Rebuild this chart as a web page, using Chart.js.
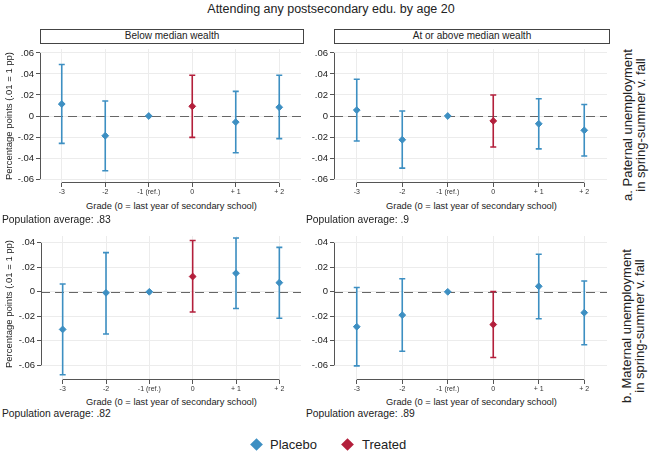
<!DOCTYPE html>
<html>
<head>
<meta charset="utf-8">
<script src="https://cdn.jsdelivr.net/npm/chart.js@4.4.1/dist/chart.umd.min.js"></script>
<style>
  body { margin: 0; background: #fff; font-family: "Liberation Sans", Arial, sans-serif; color: #222; }
  #wrap { position: relative; width: 662px; height: 451px; overflow: hidden; }
  canvas { position: absolute; }
  .txt { position: absolute; white-space: nowrap; }
  .box { position: absolute; border: 1px solid #444; box-sizing: border-box; text-align: center; font-size: 10px; line-height: 12px; }
  .rot { position: absolute; transform: translate(-50%, -50%) rotate(-90deg); white-space: nowrap; text-align: center; }
  .mark { position: absolute; width: 9px; height: 9px; transform: rotate(45deg); }
</style>
</head>
<body>
<div id="wrap">
  <div class="txt" style="left:0;width:662px;top:2px;text-align:center;font-size:12.5px;">Attending any postsecondary edu. by age 20</div>

  <div class="box" style="left:40px;top:29px;width:264px;height:15px;">Below median wealth</div>
  <div class="box" style="left:334px;top:29px;width:276px;height:15px;">At or above median wealth</div>

  <canvas id="c1" width="306" height="153" style="left:0;top:44px;"></canvas>
  <canvas id="c2" width="306" height="153" style="left:306px;top:44px;"></canvas>
  <canvas id="c3" width="306" height="163" style="left:0;top:231px;"></canvas>
  <canvas id="c4" width="306" height="163" style="left:306px;top:231px;"></canvas>

  <div class="rot" style="left:8px;top:116px;font-size:9.5px;">Percentage points (.01 = 1 pp)</div>
  <div class="rot" style="left:8px;top:304px;font-size:9.5px;">Percentage points (.01 = 1 pp)</div>

  <div class="txt" style="left:40px;width:263px;top:201px;text-align:center;font-size:9.3px;">Grade (0 = last year of secondary school)</div>
  <div class="txt" style="left:334px;width:275px;top:201px;text-align:center;font-size:9.3px;">Grade (0 = last year of secondary school)</div>
  <div class="txt" style="left:40px;width:263px;top:397px;text-align:center;font-size:9.3px;">Grade (0 = last year of secondary school)</div>
  <div class="txt" style="left:334px;width:275px;top:397px;text-align:center;font-size:9.3px;">Grade (0 = last year of secondary school)</div>

  <div class="txt" style="left:2px;top:214px;font-size:10.3px;">Population average: .83</div>
  <div class="txt" style="left:306px;top:214px;font-size:10.3px;">Population average: .9</div>
  <div class="txt" style="left:2px;top:408px;font-size:10.3px;">Population average: .82</div>
  <div class="txt" style="left:306px;top:408px;font-size:10.3px;">Population average: .89</div>

  <div class="rot" style="left:634px;top:125px;font-size:13px;line-height:13px;">a. Paternal unemployment<br>in spring-summer v. fall</div>
  <div class="rot" style="left:633px;top:326px;font-size:13px;line-height:13px;">b. Maternal unemployment<br>in spring-summer v. fall</div>

  <div class="mark" style="left:252px;top:440px;background:#3d8fc2;"></div>
  <div class="txt" style="left:270px;top:437px;font-size:13px;">Placebo</div>
  <div class="mark" style="left:343px;top:440px;background:#b31f3b;"></div>
  <div class="txt" style="left:362px;top:437px;font-size:13px;">Treated</div>
</div>

<script>
// Categories (grade relative to last year of secondary school)
const grades = [-3, -2, -1, 0, 1, 2];
const gradeLabels = ['-3', '-2', '-1 (ref.)', '0', '+ 1', '+ 2'];
const treatedGrade = 0;

// y-axis ticks
const topYTicks = [-0.06, -0.04, -0.02, 0, 0.02, 0.04, 0.06];
const topYLabels = ['-.06', '-.04', '-.02', '0', '.02', '.04', '.06'];
const bottomYTicks = [-0.06, -0.04, -0.02, 0, 0.02, 0.04];
const bottomYLabels = ['-.06', '-.04', '-.02', '0', '.02', '.04'];

// a. Paternal unemployment, below median wealth
const patBelowEst = [0.0114, -0.0188, 0, 0.0092, -0.0058, 0.0083];
const patBelowLo = [-0.026, -0.052, 0, -0.0203, -0.035, -0.0215];
const patBelowHi = [0.049, 0.0142, 0, 0.0388, 0.0234, 0.0388];

// a. Paternal unemployment, at or above median wealth
const patAboveEst = [0.0056, -0.0226, 0, -0.0047, -0.0074, -0.0136];
const patAboveLo = [-0.0238, -0.0496, 0, -0.0295, -0.0313, -0.038];
const patAboveHi = [0.0350, 0.0047, 0, 0.020, 0.0164, 0.011];

// b. Maternal unemployment, below median wealth
const matBelowEst = [-0.0307, -0.0008, 0, 0.0125, 0.0152, 0.0075];
const matBelowLo = [-0.0677, -0.0344, 0, -0.0165, -0.0136, -0.0216];
const matBelowHi = [0.0064, 0.032, 0, 0.0419, 0.044, 0.0363];

// b. Maternal unemployment, at or above median wealth
const matAboveEst = [-0.0285, -0.019, 0, -0.0267, 0.0045, -0.017];
const matAboveLo = [-0.0605, -0.0485, 0, -0.0536, -0.022, -0.0432];
const matAboveHi = [0.0035, 0.0107, 0, 0.0003, 0.0307, 0.0088];

const placeboColor = '#3d8fc2';
const treatedColor = '#b31f3b';
const font = '"Liberation Sans", Arial, sans-serif';

// Draws CI bars, dashed zero line and Stata-style axis lines
const panelPlugin = {
    id: 'panel',
    beforeDatasetsDraw(chart) {
        const { ctx, chartArea, scales: { x, y } } = chart;
        const p = chart.options.plugins.panel;

        // dashed zero line
        ctx.save();
        ctx.strokeStyle = '#666';
        ctx.lineWidth = 1;
        ctx.setLineDash([9, 5]);
        const y0 = Math.round(y.getPixelForValue(0)) + 0.5;
        ctx.beginPath();
        ctx.moveTo(chartArea.left, y0);
        ctx.lineTo(chartArea.right, y0);
        ctx.stroke();
        ctx.restore();

        // confidence intervals
        ctx.save();
        ctx.lineWidth = 1.6;
        grades.forEach((g, i) => {
            if (p.lo[i] === p.hi[i]) return;
            const px = x.getPixelForValue(g);
            const top = y.getPixelForValue(p.hi[i]);
            const bot = y.getPixelForValue(p.lo[i]);
            ctx.strokeStyle = g === treatedGrade ? treatedColor : placeboColor;
            ctx.beginPath();
            ctx.moveTo(px, top);
            ctx.lineTo(px, bot);
            ctx.moveTo(px - 3, top);
            ctx.lineTo(px + 3, top);
            ctx.moveTo(px - 3, bot);
            ctx.lineTo(px + 3, bot);
            ctx.stroke();
        });
        ctx.restore();

        // axis lines spanning the tick range only
        ctx.save();
        ctx.strokeStyle = '#555';
        ctx.lineWidth = 1;
        const yt = p.yTicks;
        const ax = Math.round(chartArea.left) + 0.5;
        ctx.beginPath();
        ctx.moveTo(ax, y.getPixelForValue(yt[0]));
        ctx.lineTo(ax, y.getPixelForValue(yt[yt.length - 1]));
        const ay = Math.round(chartArea.bottom) - 0.5;
        ctx.moveTo(x.getPixelForValue(grades[0]), ay);
        ctx.lineTo(x.getPixelForValue(grades[grades.length - 1]), ay);
        ctx.stroke();
        ctx.restore();
    }
};

// no extra label overflow padding, so the plot area sits where the layout says
function noPad(scale) {
    scale.paddingTop = 0;
    scale.paddingBottom = 0;
    scale.paddingLeft = 0;
    scale.paddingRight = 0;
}

function makePanel(id, est, lo, hi, yTicks, yLabels, yMin, yMax, yWidth) {
    const placebo = [];
    const treated = [];
    grades.forEach((g, i) => {
        (g === treatedGrade ? treated : placebo).push({ x: g, y: est[i] });
    });

    return new Chart(document.getElementById(id), {
        type: 'scatter',
        data: {
            datasets: [
                {
                    label: 'Placebo',
                    data: placebo,
                    pointStyle: 'rectRot',
                    pointRadius: 3.4,
                    backgroundColor: placeboColor,
                    borderColor: placeboColor,
                    borderWidth: 1
                },
                {
                    label: 'Treated',
                    data: treated,
                    pointStyle: 'rectRot',
                    pointRadius: 3.4,
                    backgroundColor: treatedColor,
                    borderColor: treatedColor,
                    borderWidth: 1
                }
            ]
        },
        options: {
            responsive: false,
            animation: false,
            layout: { padding: { top: 2, right: 3, left: 0, bottom: 0 } },
            plugins: {
                legend: { display: false },
                tooltip: { enabled: false },
                panel: { lo: lo, hi: hi, yTicks: yTicks }
            },
            scales: {
                x: {
                    type: 'linear',
                    min: -3.5,
                    max: 2.5,
                    afterBuildTicks: (scale) => { scale.ticks = grades.map(v => ({ value: v })); },
                    afterFit: (scale) => { scale.height = 14; noPad(scale); },
                    border: { display: false },
                    grid: { color: '#ececec', lineWidth: 1, tickColor: '#555', tickLength: 4 },
                    ticks: {
                        autoSkip: false,
                        maxRotation: 0,
                        padding: 1,
                        color: '#333',
                        font: { family: font, size: 7 },
                        callback: (v) => gradeLabels[grades.indexOf(v)]
                    }
                },
                y: {
                    min: yMin,
                    max: yMax,
                    afterBuildTicks: (scale) => { scale.ticks = yTicks.map(v => ({ value: v })); },
                    afterFit: (scale) => { scale.width = yWidth; noPad(scale); },
                    border: { display: false },
                    grid: { color: '#ececec', lineWidth: 1, tickColor: '#555', tickLength: 4 },
                    ticks: {
                        padding: 2,
                        color: '#222',
                        font: { family: font, size: 9.5 },
                        callback: (v) => yLabels[yTicks.indexOf(v)]
                    }
                }
            }
        },
        plugins: [panelPlugin]
    });
}

makePanel('c1', patBelowEst, patBelowLo, patBelowHi, topYTicks, topYLabels, -0.0637, 0.0637, 40);
makePanel('c2', patAboveEst, patAboveLo, patAboveHi, topYTicks, topYLabels, -0.0637, 0.0637, 28);
makePanel('c3', matBelowEst, matBelowLo, matBelowHi, bottomYTicks, bottomYLabels, -0.072, 0.0456, 41);
makePanel('c4', matAboveEst, matAboveLo, matAboveHi, bottomYTicks, bottomYLabels, -0.072, 0.0456, 28);
</script>
</body>
</html>
